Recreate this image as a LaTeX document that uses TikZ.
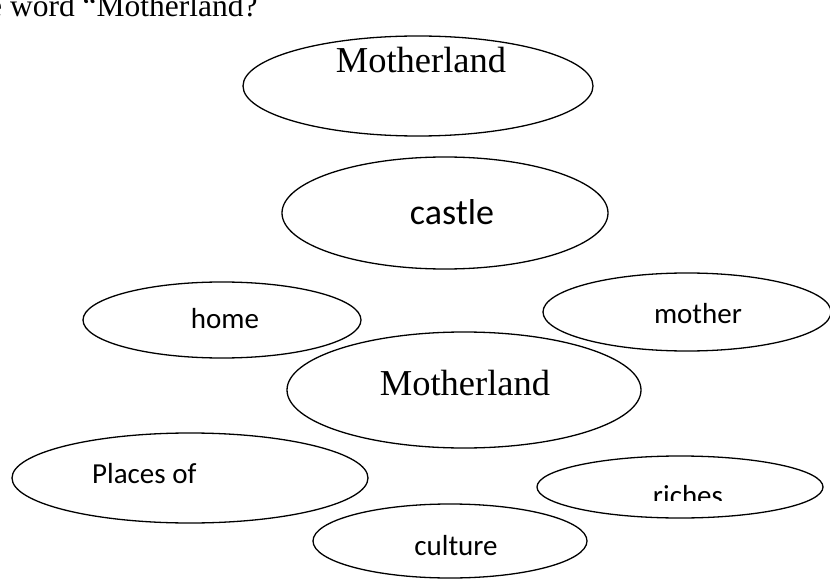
\documentclass[tikz,border=0pt]{standalone}
\usepackage{fontspec}
\setmainfont{Liberation Serif}
\newfontfamily\calib{Carlito}
\usetikzlibrary{shapes.geometric}
\begin{document}
\begin{tikzpicture}[x=1pt,y=-1pt,
  ell/.style={draw=black,line width=1.3pt,ellipse,inner sep=0pt},
  serif/.style={font=\fontsize{36.5}{40}\selectfont,inner sep=0pt,anchor=base},
  sans/.style={font=\calib\fontsize{29}{33}\selectfont,inner sep=0pt,anchor=base}]
\useasboundingbox (0,0) rectangle (830,580);
\clip (0,0) rectangle (830,580);
% heading (cut at left edge)
\node[font=\fontsize{31.5}{34}\selectfont,inner sep=0pt,anchor=base west] (head) at (-12,17) {e word “Motherland?};
% ellipses
\node[ell,minimum width=350pt,minimum height=100pt] (e1) at (418,86) {};
\node[ell,minimum width=326pt,minimum height=112pt] (e2) at (445,213) {};
\node[ell,minimum width=278pt,minimum height=76pt] (e3) at (222,320) {};
\node[ell,minimum width=288pt,minimum height=78pt] (e4) at (687,312) {};
\node[ell,minimum width=354pt,minimum height=116pt] (e5) at (464,390) {};
\node[ell,minimum width=356pt,minimum height=90pt] (e6) at (190,478) {};
\node[ell,minimum width=286pt,minimum height=62pt] (e7) at (680,487) {};
\node[ell,minimum width=274pt,minimum height=74pt] (e8) at (450,541) {};
% texts
\node[serif] (t1) at (421,73) {Motherland};
\node[sans,font=\calib\fontsize{36}{40}\selectfont] (t2) at (452,225) {castle};
\node[sans] (t3) at (225,328) {home};
\node[sans] (t4) at (698,323) {mother};
\node[serif] (t5) at (465,395) {Motherland};
\node[sans,anchor=base west] (t6) at (92,483) {Places of};
\begin{scope}
\clip (540,450) rectangle (820,500);
\node[sans] (t7) at (688,505) {riches};
\end{scope}
\node[sans] (t8) at (456,555) {culture};
\end{tikzpicture}
\end{document}
